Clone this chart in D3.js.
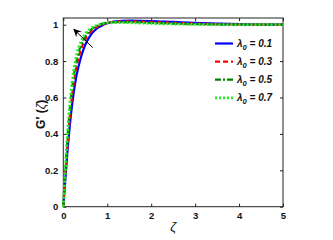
<!DOCTYPE html>
<html>
<head>
<meta charset="utf-8">
<script src="https://cdn.jsdelivr.net/npm/d3@7"></script>
<style>
  body { margin: 0; background: #fff; }
  svg text { font-family: "Liberation Sans", Arial, sans-serif; }
</style>
</head>
<body>
<svg id="chart" width="333" height="240"></svg>
<script>
// data
const zeta = [0, 0.1, 0.2, 0.3, 0.4, 0.5, 0.6, 0.7, 0.8, 0.9, 1.0, 1.2, 1.5, 2, 2.5, 3, 3.5, 4, 4.5, 5];
const g01 = [0, 0.32, 0.56, 0.72, 0.82, 0.89, 0.935, 0.965, 0.985, 0.998, 1.008, 1.018, 1.022, 1.02, 1.015, 1.01, 1.006, 1.003, 1.001, 1.0];
const g03 = [0, 0.36, 0.61, 0.77, 0.86, 0.92, 0.955, 0.978, 0.993, 1.003, 1.01, 1.016, 1.018, 1.015, 1.01, 1.006, 1.003, 1.001, 1.0, 1.0];
const g05 = [0, 0.39, 0.65, 0.80, 0.885, 0.935, 0.966, 0.985, 0.997, 1.006, 1.011, 1.014, 1.014, 1.01, 1.006, 1.003, 1.001, 1.0, 1.0, 1.0];
const g07 = [0, 0.42, 0.68, 0.83, 0.905, 0.95, 0.975, 0.99, 1.0, 1.007, 1.01, 1.012, 1.011, 1.007, 1.004, 1.002, 1.0, 1.0, 1.0, 1.0];
const lambdas = ["0.1", "0.3", "0.5", "0.7"];
const xTicks = [0, 1, 2, 3, 4, 5];
const yTicks = [0, 0.2, 0.4, 0.6, 0.8, 1];
const arrowFrom = [0.67, 0.874];
const arrowTo = [0.24, 0.975];

const series = [
  {vals: g01, color: "#0000ff", dash: null, w: 2.2},
  {vals: g03, color: "#ff0000", dash: "5,3", w: 2.2},
  {vals: g05, color: "#008000", dash: "6,2,2,2", w: 2.2},
  {vals: g07, color: "#22ee22", dash: "2,2", w: 2.8}
];

const svg = d3.select("#chart");
const mLeft = 63.3, mRight = 283, mTop = 18, mBottom = 206.7;

const x = d3.scaleLinear().domain([0, 5]).range([mLeft, mRight]);
const y = d3.scaleLinear().domain([0, 1]).range([mBottom, 24.7]);

// frame
svg.append("rect")
  .attr("x", mLeft).attr("y", mTop)
  .attr("width", mRight - mLeft).attr("height", mBottom - mTop)
  .attr("fill", "none").attr("stroke", "#222").attr("stroke-width", 1);

// axes, ticks pointing inward
const xAxis = d3.axisBottom(x).tickValues(xTicks).tickSize(-3).tickPadding(6).tickFormat(d3.format("d"));
svg.append("g").attr("transform", `translate(0,${mBottom})`).call(xAxis);
const yAxis = d3.axisLeft(y).tickValues(yTicks).tickSize(-3).tickPadding(5).tickFormat(d => d === 0 || d === 1 ? d : d.toFixed(1));
svg.append("g").attr("transform", `translate(${mLeft},0)`).call(yAxis);
svg.append("g").attr("transform", `translate(0,${mTop})`)
  .call(d3.axisTop(x).tickValues(xTicks).tickSize(-3).tickFormat(""));
svg.append("g").attr("transform", `translate(${mRight},0)`)
  .call(d3.axisRight(y).tickValues(yTicks).tickSize(-3).tickFormat(""));

svg.selectAll(".domain").remove();
svg.selectAll(".tick line").attr("stroke", "#222");
svg.selectAll(".tick text")
  .attr("fill", "#111").style("font-size", "9.5px").style("font-weight", "bold");

// curves
const line = d3.line()
  .x((d, i) => x(zeta[i]))
  .y(d => y(d))
  .curve(d3.curveMonotoneX);

series.forEach(s => {
  svg.append("path")
    .datum(s.vals)
    .attr("d", line)
    .attr("fill", "none")
    .attr("stroke", s.color)
    .attr("stroke-width", s.w)
    .attr("stroke-dasharray", s.dash);
});

// arrow
svg.append("defs").append("marker")
  .attr("id", "ah").attr("viewBox", "0 0 10 10")
  .attr("refX", 9).attr("refY", 5)
  .attr("markerWidth", 8).attr("markerHeight", 8)
  .attr("orient", "auto")
  .append("path").attr("d", "M0,0 L10,5 L0,10 L3,5 Z").attr("fill", "#000");

svg.append("line")
  .attr("x1", x(arrowFrom[0])).attr("y1", y(arrowFrom[1]))
  .attr("x2", x(arrowTo[0])).attr("y2", y(arrowTo[1]))
  .attr("stroke", "#000").attr("stroke-width", 1)
  .attr("marker-end", "url(#ah)");

// legend
const legend = svg.append("g");
series.forEach((s, i) => {
  const ly = 43.5 + i * 18.1;
  legend.append("line")
    .attr("x1", 215).attr("x2", 233)
    .attr("y1", ly).attr("y2", ly)
    .attr("stroke", s.color).attr("stroke-width", s.w)
    .attr("stroke-dasharray", s.dash);
  const t = legend.append("text")
    .attr("x", 237).attr("y", ly + 3)
    .style("font-size", "10px").style("font-weight", "bold").style("font-style", "italic")
    .attr("fill", "#111");
  t.append("tspan").text("λ");
  t.append("tspan").attr("dy", 3).style("font-size", "7.5px").text("0");
  t.append("tspan").attr("dy", -3).text(" = " + lambdas[i]);
});

// axis labels
const yl = svg.append("text")
  .attr("transform", `translate(45,${(mTop + mBottom) / 2 + 2}) rotate(-90)`)
  .attr("text-anchor", "middle")
  .style("font-size", "12px").style("font-weight", "bold")
  .attr("fill", "#111");
yl.append("tspan").text("G′ (");
yl.append("tspan").style("font-style", "italic").style("font-weight", "normal").text("ζ");
yl.append("tspan").text(")");

svg.append("text")
  .attr("x", x(2.5)).attr("y", 231)
  .attr("text-anchor", "middle")
  .style("font-size", "13px").style("font-style", "italic")
  .attr("fill", "#111")
  .text("ζ");
</script>
</body>
</html>
